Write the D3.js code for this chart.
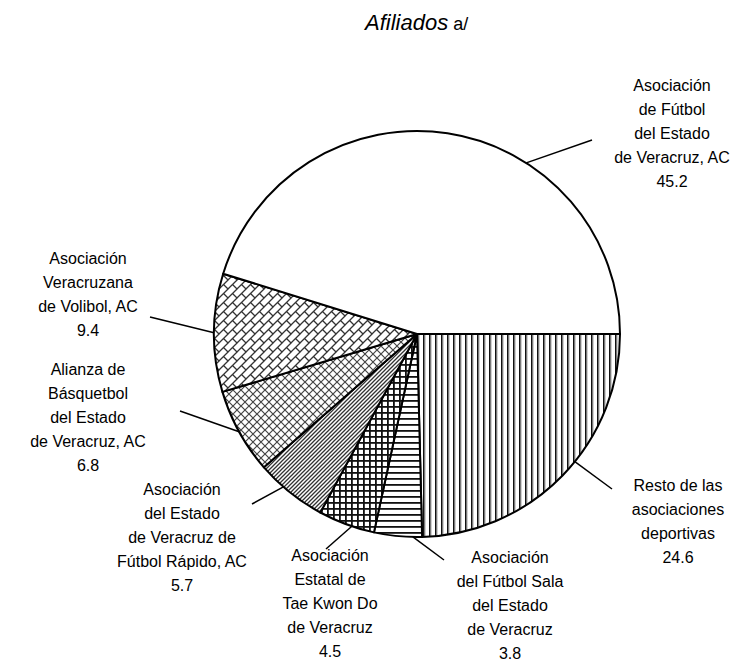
<!DOCTYPE html>
<html>
<head>
<meta charset="utf-8">
<script src="https://cdn.jsdelivr.net/npm/d3@7"></script>
<style>
  html, body { margin: 0; padding: 0; background: #fff; }
  svg { display: block; }
  text { font-family: "Liberation Sans", Arial, sans-serif; font-size: 16px; fill: #000; }
</style>
</head>
<body>
<svg id="chart" width="754" height="666"></svg>
<script>
// ---- data ----
const categories = [
  "Resto de las\nasociaciones\ndeportivas",
  "Asociación\ndel Fútbol Sala\ndel Estado\nde Veracruz",
  "Asociación\nEstatal de\nTae Kwon Do\nde Veracruz",
  "Asociación\ndel Estado\nde Veracruz de\nFútbol Rápido, AC",
  "Alianza de\nBásquetbol\ndel Estado\nde Veracruz, AC",
  "Asociación\nVeracruzana\nde Volibol, AC",
  "Asociación\nde Fútbol\ndel Estado\nde Veracruz, AC"
];
const values = [24.6, 3.8, 4.5, 5.7, 6.8, 9.4, 45.2];
const valueLabels = ["24.6", "3.8", "4.5", "5.7", "6.8", "9.4", "45.2"];
const titleMain = "Afiliados";
const titleNote = " a/";

// ---- layout (positions/styles) ----
const W = 754, H = 666;
const cx = 417, cy = 334, R = 203;
const patterns = ["vert", "horiz", "grid", "diag", "diamond", "brick", "none"];
// label block: centre x, centre y of first line
const labelPos = [[678, 485], [510, 557], [330, 555], [182, 489], [88, 369], [88, 258], [672, 85]];
// leader: fraction along slice arc where it touches, and outer end point
const leaderFrac = [0.44, 0.19, 0.4, 0.62, 0.5, 0.5, 0.647];
const leaderEnd = [[612, 489], [444, 560], [326, 549], [252, 504], [180, 411], [150, 317], [592, 140]];
const lineH = 24;

const svg = d3.select("#chart");
const defs = svg.append("defs");

function pat(id, size) {
  return defs.append("pattern").attr("id", id)
    .attr("patternUnits", "userSpaceOnUse")
    .attr("width", size).attr("height", size);
}
// vertical lines
let p = pat("vert", 6);
p.append("rect").attr("width", 6).attr("height", 6).attr("fill", "#fff");
p.append("rect").attr("x", 0).attr("width", 1.6).attr("height", 6).attr("fill", "#111");
p.append("rect").attr("x", 1.6).attr("width", 0.8).attr("height", 6).attr("fill", "#888");
// horizontal lines
p = pat("horiz", 6);
p.append("rect").attr("width", 6).attr("height", 6).attr("fill", "#fff");
p.append("rect").attr("y", 0).attr("width", 6).attr("height", 1.8).attr("fill", "#111");
// grid
p = pat("grid", 6);
p.append("rect").attr("width", 6).attr("height", 6).attr("fill", "#fff");
p.append("rect").attr("width", 6).attr("height", 1.8).attr("fill", "#111");
p.append("rect").attr("width", 1.8).attr("height", 6).attr("fill", "#111");
// diagonal "/" lines dense
p = pat("diag", 4);
p.append("rect").attr("width", 4).attr("height", 4).attr("fill", "#fff");
p.append("path").attr("d", "M-1,1 L1,-1 M0,4 L4,0 M3,5 L5,3")
  .attr("stroke", "#333").attr("stroke-width", 1.3);
// diamond crosshatch
p = pat("diamond", 8);
p.append("rect").attr("width", 8).attr("height", 8).attr("fill", "#fff");
p.append("path").attr("d", "M0,0 L8,8 M8,0 L0,8")
  .attr("stroke", "#444").attr("stroke-width", 1.2);
// diagonal brick
p = pat("brick", 9);
p.append("rect").attr("width", 9).attr("height", 9).attr("fill", "#fff");
p.append("path").attr("d", "M-1,10 L10,-1 M4.5,4.5 L9,9 M0,0 L0.5,0.5")
  .attr("stroke", "#333").attr("stroke-width", 1.3);

const pie = d3.pie().sort(null).value(d => d)
  .startAngle(Math.PI / 2).endAngle(Math.PI / 2 + 2 * Math.PI);
const arcs = pie(values);
const arc = d3.arc().innerRadius(0).outerRadius(R);

const g = svg.append("g").attr("transform", `translate(${cx},${cy})`);
g.selectAll("path.slice").data(arcs).join("path")
  .attr("class", "slice")
  .attr("d", arc)
  .attr("fill", (d, i) => patterns[i] === "none" ? "#fff" : `url(#${patterns[i]})`)
  .attr("stroke", "#000").attr("stroke-width", 2).attr("stroke-linejoin", "round");

// leader lines
svg.selectAll("line.leader").data(arcs).join("line")
  .attr("class", "leader")
  .attr("x1", (d, i) => { const a = d.startAngle + (d.endAngle - d.startAngle) * leaderFrac[i]; return cx + R * Math.sin(a); })
  .attr("y1", (d, i) => { const a = d.startAngle + (d.endAngle - d.startAngle) * leaderFrac[i]; return cy - R * Math.cos(a); })
  .attr("x2", (d, i) => leaderEnd[i][0])
  .attr("y2", (d, i) => leaderEnd[i][1])
  .attr("stroke", "#000").attr("stroke-width", 1.5);

// labels
categories.forEach((c, i) => {
  const lines = c.split("\n").concat([valueLabels[i]]);
  const t = svg.append("text").attr("text-anchor", "middle");
  lines.forEach((ln, k) => {
    t.append("tspan").attr("x", labelPos[i][0]).attr("y", labelPos[i][1] + k * lineH + 5.5).text(ln);
  });
});

// title
const tt = svg.append("text").attr("x", 365).attr("y", 30).attr("text-anchor", "start");
tt.append("tspan").attr("font-style", "italic").attr("font-size", "22px").text(titleMain);
tt.append("tspan").attr("font-size", "18px").text(titleNote);
</script>
</body>
</html>
